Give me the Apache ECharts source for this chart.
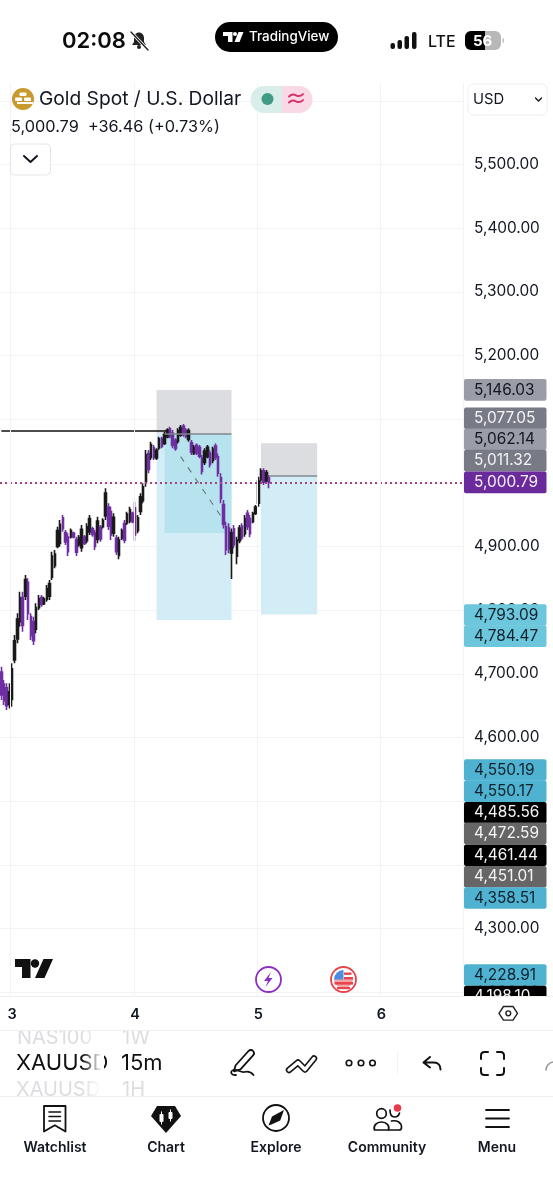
<!DOCTYPE html>
<html>
<head>
<meta charset="utf-8">
<title>XAUUSD 15m</title>
<script src="https://cdn.jsdelivr.net/npm/echarts@6/dist/echarts.min.js"></script>
<style>
html,body{margin:0;padding:0;background:#fff}
#chart{width:553px;height:1200px}
</style>
</head>
<body>
<div id="chart"></div>
<script>
// Candle values, oldest first
const opens = [4703,4684,4678,4652,4660,4722,4755,4782,4820,4822,4844,4790,4782,4770,4804,4820,4810,4817,4822,4852,4870,4900,4905,4945,4922,4915,4915,4921,4911,4903,4898,4915,4909,4923,4928,4921,4911,4930,4931,4948,4962,4955,4921,4913,4886,4913,4936,4937,4940,4952,4961,4925,4955,4972,5002,5046,5040,5055,5039,5055,5069,5062,5072,5085,5078,5067,5065,5075,5089,5083,5068,5063,5046,5059,5056,5039,5032,5041,5047,5035,5058,5041,5008,4966,4931,4929,4890,4928,4885,4909,4932,4920,4952,4944,4939,4952,4968,5005,5019,5003,5008];
const closes = [4667,4658,4650,4672,4708,4752,4786,4820,4776,4848,4795,4760,4752,4804,4818,4809,4818,4834,4842,4885,4888,4925,4935,4928,4907,4892,4925,4915,4891,4914,4927,4905,4931,4944,4919,4900,4940,4912,4941,4984,4932,4918,4946,4892,4910,4925,4910,4951,4958,4939,4918,4945,4978,4994,5044,5021,5060,5040,5051,5069,5057,5076,5083,5073,5059,5054,5082,5087,5076,5073,5082,5048,5056,5047,5042,5018,5050,5056,5029,5053,5040,5015,4975,4935,4895,4896,4922,4903,4910,4929,4914,4944,4931,4920,4952,4962,5003,5019,5001,5016,5000.79];
const lows = [4658.9,4651.1,4643.2,4645.8,4648.5,4716.5,4747.9,4774.1,4766.2,4816,4784.6,4753.2,4745.3,4763.6,4800.3,4805.5,4808.1,4813.4,4816,4847.4,4865.7,4897.1,4899.8,4923.3,4902.4,4885.1,4912.8,4912.8,4885.1,4899.8,4891.9,4902.4,4905,4918.1,4915.5,4894.5,4905,4907.6,4928.5,4941.6,4925.9,4910.2,4915.5,4886.7,4879.9,4910.2,4905,4933.8,4936.4,4936.4,4909.2,4920.7,4949.5,4967.8,4994,5014.9,5035.9,5035.9,5035.9,5051.6,5054.2,5059.4,5069.9,5069.9,5054.2,5050.5,5062,5072.5,5072.5,5069.9,5064.7,5043.7,5043.7,5043.7,5038.5,5013.3,5028,5038.5,5024.3,5030.6,5035.9,5009.7,4967.8,4928.5,4886.7,4889.3,4849,4897.1,4872,4905,4910.2,4915.5,4925.9,4914.4,4936.4,4949.5,4962.6,5001.8,4996.6,4999.2,4991.4];
const highs = [4711.3,4690.4,4685.1,4685.1,4716.5,4761,4795.1,4829.1,4829.1,4855.2,4850,4795.1,4789.8,4810.8,4823.9,4823.9,4821.2,4839.5,4847.4,4891.9,4894.5,4931.2,4941.6,4949.5,4925.9,4920.7,4928.5,4923.3,4915.5,4918.1,4933.8,4918.1,4936.4,4949.5,4931.2,4925.9,4946.9,4933.8,4944.3,4991.4,4967.8,4962.6,4952.1,4918.1,4915.5,4928.5,4941.6,4954.7,4962.6,4954.7,4970.4,4949.5,4983.5,4999.2,5051.6,5051.6,5064.7,5059.4,5054.2,5072.5,5072.5,5080.4,5085.6,5088.2,5083,5069.9,5085.6,5090.8,5092.4,5085.6,5085.6,5067.3,5059.4,5062,5059.4,5043.7,5054.2,5059.4,5051.6,5056.8,5062,5046.3,5014.9,4973,4939,4936.4,4928.5,4933.8,4915.5,4933.8,4936.4,4949.5,4957.3,4949.5,4954.7,4965.2,5009.7,5022.8,5022.8,5020.2,5012.3];

// Price axis and date axis
const priceTicks = [5600,5500,5400,5300,5200,5100,5000,4900,4800,4700,4600,4500,4400,4300,4200];
const dayNames = ['3','4','5','6'];
const dayBars = [4,50,96,142];
const slotCount = 173;

// Price tags on the scale
const tagValues = [5146.03,5077.05,5062.14,5011.32,5000.79,4793.09,4784.47,4550.19,4550.17,4485.56,4472.59,4461.44,4451.01,4358.51,4228.91,4198.10];
const tagFills  = ['#9a9da6','#787b86','#9a9da6','#787b86','#6a2a9c','#6cc6dc','#6cc6dc','#4fb2d0','#4fb2d0','#000000','#666666','#000000','#666666','#4fb2d0','#4fb2d0','#000000'];
const tagInks   = ['#131722','#f4f4f6','#131722','#f4f4f6','#f4f0f8','#10222c','#10222c','#10222c','#10222c','#f4f4f6','#f4f4f6','#f4f4f6','#f4f4f6','#10222c','#10222c','#f4f4f6'];
// Tags stack so they stay readable; this is each one's shift from its price
const tagShift  = [0,-15.5,-4,-15,0,0.4,16,0.8,22,2.3,14.7,29.5,44.3,6.7,1.2,3.1];

// Drawing tools
const shortTool = {from:58, to:86, stop:5146.03, entry:5077.05, target:4784.47};
const filledFrom = 61, filledLevel = 4921.2;
const longTool = {from:97, to:118, stop:5062.14, entry:5011.32, target:4793.09, lineFrom:100};
const lastPrice = 5000.79;
const swingLevel = 5081.9, swingEnd = 62;
const pathFrom = [67,5041.1], pathTo = [83,4941.6];

const categories = [];
for (let i = 0; i < slotCount; i++) {
  const d = dayBars.indexOf(i);
  categories.push(d >= 0 ? dayNames[d] : '');
}
const candles = opens.map((o, i) => [o, closes[i], lows[i], highs[i]]);

const FONT = 'Inter, "Liberation Sans", sans-serif';
const INK = '#131722';
const GRID = '#f2f3f5';

const toolBox = (t, a, b, color, from) => [
  {xAxis: from === undefined ? t.from : from, yAxis: a, itemStyle: {color, opacity: 1}},
  {xAxis: t.to, yAxis: b}
];

const chart = echarts.init(document.getElementById('chart'), null, {renderer: 'canvas'});
chart.setOption({
  animation: false,
  backgroundColor: '#ffffff',
  grid: {left: 0, width: 463, top: 83, height: 914},
  xAxis: {
    type: 'category',
    data: categories,
    boundaryGap: true,
    axisLine: {show: false},
    axisTick: {show: false},
    splitLine: {show: true, interval: i => dayBars.includes(i), lineStyle: {color: GRID, width: 1}},
    axisLabel: {
      interval: i => dayBars.includes(i),
      margin: 10,
      fontFamily: FONT, fontSize: 14.5, fontWeight: 600, color: INK
    },
    z: 70
  },
  yAxis: {
    type: 'value',
    position: 'right',
    min: 4192.5,
    max: 5628,
    axisLine: {show: false},
    axisTick: {show: false, customValues: priceTicks},
    splitLine: {show: true, lineStyle: {color: GRID, width: 1}},
    axisLabel: {
      customValues: priceTicks,
      margin: 11,
      fontFamily: FONT, fontSize: 15.4, color: INK,
      formatter: v => v.toLocaleString('en-US', {minimumFractionDigits: 2, maximumFractionDigits: 2})
    }
  },
  series: [
    {
      // Risk/reward boxes sit behind the candles
      name: 'Tools',
      type: 'line',
      data: [],
      z: 1,
      silent: true,
      markArea: {
        silent: true,
        data: [
          toolBox(shortTool, shortTool.stop, shortTool.entry, '#dcdde0'),
          toolBox(shortTool, shortTool.entry, shortTool.target, '#d2edf5'),
          toolBox(shortTool, shortTool.entry, filledLevel, '#b7e3ee', filledFrom),
          toolBox(longTool, longTool.stop, longTool.entry, '#dcdde0'),
          toolBox(longTool, longTool.entry, longTool.target, '#d2edf5')
        ]
      },
      markLine: {
        silent: true,
        symbol: 'none',
        label: {show: false},
        data: [
          [{xAxis: filledFrom, yAxis: shortTool.entry, lineStyle: {color: '#80868e', width: 1.5, type: 'solid'}}, {xAxis: shortTool.to, yAxis: shortTool.entry}],
          [{xAxis: longTool.lineFrom, yAxis: longTool.entry, lineStyle: {color: '#80868e', width: 1.5, type: 'solid'}}, {xAxis: longTool.to, yAxis: longTool.entry}],
          [{xAxis: 0, yAxis: swingLevel, lineStyle: {color: '#111111', width: 1.5, type: 'solid'}}, {xAxis: swingEnd, yAxis: swingLevel}],
          [{xAxis: pathFrom[0], yAxis: pathFrom[1], lineStyle: {color: '#6d7a82', width: 1.2, type: [6, 7]}}, {xAxis: pathTo[0], yAxis: pathTo[1]}]
        ]
      }
    },
    {
      name: 'XAUUSD',
      type: 'candlestick',
      data: candles,
      barWidth: 2,
      z: 3,
      itemStyle: {color: '#1a1a1a', color0: '#6f2fa3', borderColor: '#1a1a1a', borderColor0: '#6f2fa3', borderWidth: 1.6}
    },
    {
      name: 'Last price',
      type: 'line',
      data: [],
      z: 4,
      silent: true,
      markLine: {
        silent: true,
        symbol: 'none',
        label: {show: false},
        data: [{yAxis: lastPrice, lineStyle: {color: '#a3447e', width: 2, type: [2, 3]}}]
      }
    }
  ]
});

// ---- Screen furniture drawn around the plot ----
const g = [];
let shapeCount = 0;
const T = (text, x, y, size, fill, opt = {}) => g.push({
  type: 'text', z: opt.z || 100, x, y,
  style: {text, fontFamily: FONT, fontSize: size, fontWeight: opt.w || 400, fill, align: opt.a || 'left', verticalAlign: 'middle'}
});
const R = (x, y, width, height, fill, opt = {}) => g.push({
  type: 'rect', z: opt.z || 100,
  shape: {x, y, width, height, r: opt.r || 0},
  style: {fill, stroke: opt.s || null, lineWidth: opt.lw || 0}
});
// Icon outlines become registered shapes, the graphic component has no raw path type
const P = (pathData, opt = {}) => {
  const name = 'iconShape' + (shapeCount++);
  echarts.graphic.registerShape(name, echarts.graphic.extendPath(pathData, {}));
  g.push({
    type: name, z: opt.z || 100,
    style: {fill: opt.f || null, stroke: opt.s || null, lineWidth: opt.lw || 0, lineCap: 'round', lineJoin: 'round'}
  });
};
const C = (cx, cy, r, opt = {}) => g.push({
  type: 'circle', z: opt.z || 100,
  shape: {cx, cy, r},
  style: {fill: opt.f || null, stroke: opt.s || null, lineWidth: opt.lw || 0}
});

// Status bar
T('02:08', 62, 41, 22, '#0c0c0c', {w: 600});
P('M139 32.5c-3 0-5 2.5-5 5.5v4l-2 3h14l-2-3v-4c0-3-2-5.5-5-5.5z', {f: '#222'});
C(139, 47, 2, {f: '#222'});
P('M131 32 L148 50', {s: '#fff', lw: 3});
P('M131 32 L148 50', {s: '#222', lw: 1.4});
R(215, 22, 123, 30, '#000', {r: 15});
P('M223 32h9.5v10h-4.5v-6h-5z', {f: '#fff'});
C(235, 34, 2, {f: '#fff'});
P('M238.5 32h5l-4 10h-5z', {f: '#fff'});
T('TradingView', 249, 37, 13.4, '#fff', {w: 500});
R(390.5, 43, 4.5, 6, '#111', {r: 2});
R(397.5, 40, 4.5, 9, '#111', {r: 2});
R(404.5, 36, 4.5, 13, '#111', {r: 2});
R(412, 32, 4.5, 17, '#111', {r: 2});
T('LTE', 428, 42, 16, '#111', {w: 500});
R(465, 31, 36, 19, '#b8b8b8', {r: 6});
P('M471 31h14v19h-14a6 6 0 0 1-6-6v-7a6 6 0 0 1 6-6z', {f: '#000'});
R(502.5, 38, 1.5, 5, '#c4c4c4', {r: 1});
T('56', 473, 41, 15, '#fff', {w: 700});

// Symbol header
C(23, 99, 11, {f: '#c8992f'});
R(19.5, 92.5, 7, 3.5, '#fff', {r: 1});
R(15, 97.5, 7, 3.5, '#fff', {r: 1});
R(24, 97.5, 7, 3.5, '#fff', {r: 1});
R(17, 102, 16, 2, '#fff');
T('Gold Spot / U.S. Dollar', 39, 99.5, 19.2, INK);
P('M264 86h18v27h-18a13.5 13.5 0 0 1 0-27z', {f: '#d9edea'});
P('M282 86h17a13.5 13.5 0 0 1 0 27h-17z', {f: '#f8d9e5'});
C(267.5, 99, 6, {f: '#3f9b84'});
P('M289 96.5c2.500-2.500 4.500-2.500 7-1.200s4.500 1.200 7-1.200M289 102.500c2.500-2.500 4.500-2.500 7-1.200s4.500 1.200 7-1.200', {s: '#d6336f', lw: 2});
T('5,000.79  +36.46 (+0.73%)', 11, 127.5, 16.3, INK);
R(10.5, 144, 40, 31, '#fff', {r: 4, s: '#e3e5ea', lw: 1});
P('M24 156l6.5 6 6.5-6', {s: '#131722', lw: 2});
R(468, 84, 79, 31, '#fff', {r: 5, s: '#eceef1', lw: 1});
T('USD', 473, 99.5, 14.8, INK);
P('M535.5 98l3 3 3-3', {s: '#131722', lw: 1.4});

// Chart watermark and event markers
P('M15 959h15.5v19h-8.5v-11h-7z', {f: '#111'});
C(35, 963.5, 4.2, {f: '#111'});
P('M43.5 959h9.5l-8.5 19h-9.5z', {f: '#111'});
C(268.5, 979.5, 12.5, {f: '#fff', s: '#8a2fc4', lw: 1.8});
P('M271 972l-7 9h4l-2.5 6 7-9h-4z', {f: '#8a2fc4'});
C(343.5, 979.5, 12.5, {f: '#fff', s: '#e4464b', lw: 1.8});
P('M334 979h19a9.5 9.5 0 0 1-19 0z', {f: '#f3a5a7'});
R(334.5, 982, 18.5, 2.6, '#e4464b');
R(337, 987, 13, 2.2, '#e4464b');
P('M343.5 970a9.5 9.5 0 0 0-9.5 9.5h9.5z', {f: '#4b8ee0'});
R(344, 972.5, 7.5, 2.4, '#e4464b');
R(344, 977, 9, 2.4, '#e4464b');

// Footer: date-axis strip, toolbar rows and bottom navigation
R(0, 996.5, 553, 34, '#fff', {z: 60});
R(0, 996, 553, 1, '#eff0f2', {z: 61});
R(0, 1030, 553, 1, '#eeeff1', {z: 61});
P('M503.5 1006.5h9.5l4.5 6.8-4.5 6.8h-9.5l-4.5-6.8z', {s: '#222', lw: 1.4});
C(508.3, 1013.3, 2.4, {s: '#222', lw: 1.4});

T('NAS100', 17, 1038, 20, '#dcdde0', {z: 50});
T('1W', 122, 1038, 20, '#dcdde0', {z: 50});
T('XAUUSD', 16, 1063.5, 22, '#111');
T('15m', 121, 1063.5, 22, '#111');
T('XAUUSD', 16, 1090, 20, '#dcdde0', {z: 50});
T('1H', 122, 1090, 20, '#dcdde0', {z: 50});
g.push({type: 'rect', z: 101, shape: {x: 82, y: 1031, width: 22, height: 65}, style: {
  fill: new echarts.graphic.LinearGradient(0, 0, 1, 0, [{offset: 0, color: 'rgba(255,255,255,0)'}, {offset: 0.9, color: '#fff'}, {offset: 1, color: '#fff'}])
}});
R(0, 1096.5, 553, 104, '#fff', {z: 60});
R(0, 1096, 553, 1, '#eeeff1', {z: 61});

// Toolbar icons
P('M235.5 1065.5l13-14.5c1.2-1.3 3.4-1.3 4.6 0s1.2 3 0 4.3l-12.6 14-6.5 2z', {s: '#111', lw: 1.8});
P('M236 1075c-5 1-6.5-4-2.5-5 4.5-1 7 3 11 2 3.5-.8 6-.8 9 3', {s: '#111', lw: 1.8});
P('M289 1070l9-7.5 7 7 9-11', {s: '#111', lw: 6.5});
P('M289 1070l9-7.5 7 7 9-11', {s: '#fff', lw: 3.4});
C(349, 1063, 2.8, {s: '#111', lw: 1.6});
C(361, 1063, 2.8, {s: '#111', lw: 1.6});
C(372.5, 1063, 2.8, {s: '#111', lw: 1.6});
R(397, 1052, 1, 22, '#f1f2f4');
P('M430 1057l-6.5 5.5 6.5 5M424 1062.5h10c4 0 6.5 3 6.5 7', {s: '#111', lw: 2});
P('M481 1059v-3.5c0-2 1.5-3.5 3.5-3.5h3.5M497 1052h3.5c2 0 3.5 1.5 3.5 3.5v3.5M504 1068v3.5c0 2-1.5 3.5-3.5 3.5H497M488 1075h-3.5c-2 0-3.5-1.5-3.5-3.5V1068', {s: '#111', lw: 2});
P('M546 1070c0-4 3-7.5 7-8', {s: '#9a9a9a', lw: 1.6});

// Navigation icons
P('M44 1106h21.5v25.5l-10.7-6.2-10.8 6.2z', {s: '#111', lw: 1.8});
P('M49 1112h11.5M49 1116.5h11.5M49 1121h11.5', {s: '#111', lw: 1.6});
P('M157 1106h18l6 10-15 17-15-17z', {f: '#111'});
R(159.5, 1114, 4, 8, '#fff', {r: 1});
R(161, 1111.5, 1, 13, '#fff');
R(168.5, 1112, 4, 7, '#fff', {r: 1});
R(170, 1109.5, 1, 12, '#fff');
C(276, 1118, 13, {s: '#111', lw: 1.8});
P('M284 1110l-3.8 10.5-8.7 4-3 1 3.5-9z', {f: '#111'});
C(381.5, 1113.5, 4.8, {s: '#111', lw: 1.7});
P('M374.5 1130c-1.5-4.5 2-8 7-8s8.5 3.5 7 8z', {s: '#111', lw: 1.7});
P('M390 1110c0 4 1.5 7 4.5 7s4.5-2 5-4', {s: '#111', lw: 1.7});
P('M391.5 1121c5-1 10 1 10 6.5 0 1.5-1 2.5-2.5 2.5h-10', {s: '#111', lw: 1.7});
C(397.5, 1108, 3.8, {f: '#e8394d'});
P('M486 1110h23M486 1118.5h23M486 1127h23', {s: '#111', lw: 1.8});
T('Watchlist', 55, 1147.5, 14, INK, {a: 'center', w: 600});
T('Chart', 166, 1147.5, 14, INK, {a: 'center', w: 600});
T('Explore', 276, 1147.5, 14, INK, {a: 'center', w: 600});
T('Community', 387, 1147.5, 14, INK, {a: 'center', w: 600});
T('Menu', 497, 1147.5, 14, INK, {a: 'center', w: 600});

// Price tags follow the price scale, shifted where they stack
tagValues.forEach((v, i) => {
  const cy = chart.convertToPixel({yAxisIndex: 0}, v) + tagShift[i];
  R(464, cy - 10.8, 82.5, 21.6, tagFills[i], {z: 40, r: 2});
  T(v.toLocaleString('en-US', {minimumFractionDigits: 2}), 474, cy, 15.4, tagInks[i], {z: 41});
});

chart.setOption({graphic: {elements: g}});
</script>
</body>
</html>
